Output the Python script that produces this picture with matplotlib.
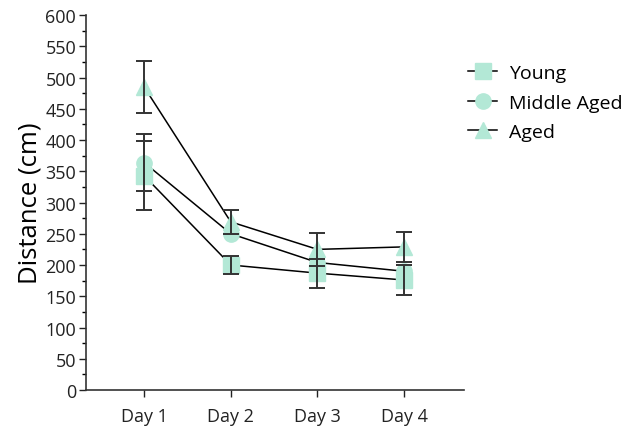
import matplotlib.pyplot as plt
import numpy as np

days = ["Day 1", "Day 2", "Day 3", "Day 4"]
groups = ["Young", "Middle Aged", "Aged"]
young = [343, 200, 187, 176]
young_err = [55, 14, 23, 24]
middle = [364, 250, 204, 190]
middle_err = [46, 0, 0, 0]
aged = [485, 269, 225, 229]
aged_err = [41, 19, 26, 24]

plt.rcParams['font.family'] = ['Open Sans', 'DejaVu Sans']

fill = "#b3e8d6"
x = np.arange(1, len(days) + 1)

fig = plt.figure(figsize=(6.34, 4.27), dpi=100)
ax = fig.add_axes([0.1356, 0.0843, 0.5963, 0.8782])

series = [(young, young_err, "s"), (middle, middle_err, "o"), (aged, aged_err, "^")]
for (vals, errs, mk), name in zip(series, groups):
    vals = np.array(vals, dtype=float)
    errs = np.array(errs, dtype=float)
    ax.plot(x, vals, color="black", lw=1.1, zorder=2)
    ax.plot(x, vals, ls="none", marker=mk, ms=11, mfc=fill, mec=fill, zorder=3)
    keep = errs > 0
    ax.errorbar(x[keep], vals[keep], yerr=errs[keep], fmt="none", ecolor="#333333",
                elinewidth=1.4, capsize=5.5, capthick=1.4, zorder=4)
    # legend proxy
    ax.plot([], [], color="black", lw=1.1, marker=mk, ms=11, mfc=fill, mec=fill, label=name)

ax.set_xlim(0.33, 4.69)
ax.set_ylim(0, 600)
ax.set_yticks(np.arange(0, 601, 50))
ax.set_yticks(np.arange(25, 600, 50), minor=True)
ax.set_xticks(x)
ax.set_xticklabels(days)
ax.tick_params(axis="both", labelsize=13, colors="#222222", width=1, length=5)
ax.tick_params(axis="y", which="minor", length=3, width=1)
ax.tick_params(axis="y", pad=2)
ax.tick_params(axis="x", pad=7)
ax.set_ylabel("Distance (cm)", fontsize=18.5, labelpad=2)

for s in ["top", "right"]:
    ax.spines[s].set_visible(False)
for s in ["left", "bottom"]:
    ax.spines[s].set_linewidth(1.2)
    ax.spines[s].set_color("#333333")

ax.legend(loc="upper left", bbox_to_anchor=(0.975, 0.906), frameon=False, fontsize=14,
          handlelength=1.5, handletextpad=0.6, labelspacing=0.6, borderaxespad=0.3)

fig.savefig("out.png", dpi=100)
